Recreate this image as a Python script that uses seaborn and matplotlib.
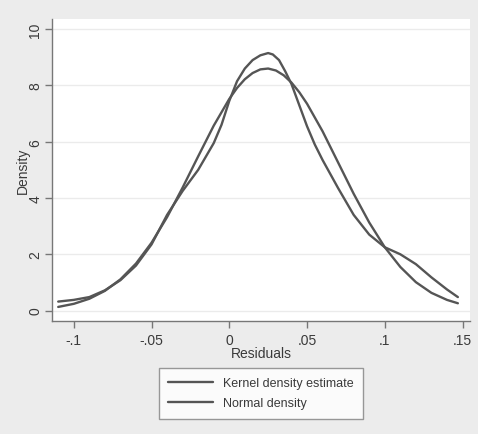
import matplotlib
matplotlib.use("Agg")
import matplotlib.pyplot as plt
import seaborn as sns
import pandas as pd
from matplotlib.lines import Line2D

# Values
kernel_x = [-0.110, -0.100, -0.090, -0.080, -0.070, -0.060, -0.050, -0.040, -0.030,
            -0.020, -0.010, -0.005, 0.000, 0.005, 0.010, 0.015, 0.020, 0.025, 0.028,
            0.032, 0.036, 0.040, 0.045, 0.050, 0.055, 0.060, 0.070, 0.080, 0.090,
            0.100, 0.110, 0.120, 0.130, 0.140, 0.147]
kernel_y = [0.32, 0.38, 0.48, 0.72, 1.08, 1.60, 2.35, 3.40, 4.25,
            5.00, 5.95, 6.60, 7.45, 8.15, 8.60, 8.90, 9.07, 9.15, 9.10,
            8.90, 8.50, 8.05, 7.30, 6.55, 5.90, 5.35, 4.35, 3.40, 2.70,
            2.25, 2.00, 1.65, 1.18, 0.75, 0.48]

normal_x = [-0.110, -0.100, -0.090, -0.080, -0.070, -0.060, -0.050, -0.040, -0.030,
            -0.020, -0.010, 0.000, 0.005, 0.010, 0.015, 0.020, 0.025, 0.030, 0.035,
            0.040, 0.045, 0.050, 0.060, 0.070, 0.080, 0.090, 0.100, 0.110, 0.120,
            0.130, 0.140, 0.147]
normal_y = [0.13, 0.24, 0.42, 0.70, 1.11, 1.67, 2.41, 3.32, 4.37,
            5.48, 6.57, 7.52, 7.91, 8.22, 8.44, 8.57, 8.60, 8.53, 8.36,
            8.10, 7.76, 7.35, 6.37, 5.26, 4.15, 3.13, 2.25, 1.55, 1.01,
            0.63, 0.38, 0.26]

series_names = ["Kernel density estimate", "Normal density"]
x_ticks = [-0.1, -0.05, 0, 0.05, 0.1, 0.15]
x_tick_labels = ["-.1", "-.05", "0", ".05", ".1", ".15"]
y_ticks = [0, 2, 4, 6, 8, 10]
y_tick_labels = ["0", "2", "4", "6", "8", "10"]

df = pd.concat([
    pd.DataFrame({"x": kernel_x, "y": kernel_y, "series": series_names[0]}),
    pd.DataFrame({"x": normal_x, "y": normal_y, "series": series_names[1]}),
], ignore_index=True)

sns.set_style("white")
plt.rcParams["font.family"] = ["Liberation Sans", "DejaVu Sans"]

bg = "#ececec"
line_col = "#555555"
txt_col = "#3a3a3a"
fig = plt.figure(figsize=(4.78, 4.35), dpi=100, facecolor=bg)
ax = fig.add_axes([52/478, 1 - 322/435, (470 - 52)/478, (322 - 20)/435])
ax.set_facecolor("white")

sns.lineplot(data=df, x="x", y="y", hue="series",
             palette=[line_col, line_col], linewidth=1.7, ax=ax,
             sort=False, estimator=None, legend=False)
for ln in ax.lines:
    ln.set_solid_joinstyle("round")
    ln.set_solid_capstyle("round")

ax.set_xlim(-0.114, 0.1548)
ax.set_ylim(-0.37, 10.36)

for v in y_ticks:
    ax.axhline(v, color="#ebebeb", lw=1.0, zorder=0)

ax.set_xticks(x_ticks)
ax.set_xticklabels(x_tick_labels)
ax.set_yticks(y_ticks)
ax.set_yticklabels(y_tick_labels, rotation=90, va="center")

ax.tick_params(axis="both", direction="out", length=5, width=1,
               color="#777777", labelcolor=txt_col, labelsize=10,
               bottom=True, left=True)
ax.tick_params(axis="x", pad=4)
ax.tick_params(axis="y", pad=2)

for side in ["top", "right"]:
    ax.spines[side].set_visible(False)
for side in ["left", "bottom"]:
    ax.spines[side].set_color("#777777")
    ax.spines[side].set_linewidth(1.0)

ax.set_xlabel("Residuals", fontsize=10, color=txt_col, labelpad=-1)
ax.set_ylabel("Density", fontsize=10, color=txt_col, labelpad=-1)

handles = [Line2D([], [], color=line_col, lw=1.7) for _ in series_names]
leg = fig.legend(handles, series_names, loc="upper center",
                 bbox_to_anchor=(261/478, 1 - 369/435), fontsize=9,
                 frameon=True, fancybox=False, handlelength=3.6,
                 labelspacing=0.65, borderpad=0.75, handletextpad=0.8,
                 borderaxespad=0, labelcolor=txt_col)
leg.get_frame().set_edgecolor("#808080")
leg.get_frame().set_linewidth(1.0)
leg.get_frame().set_facecolor("white")

fig.savefig("out.png", dpi=100, facecolor=bg)
